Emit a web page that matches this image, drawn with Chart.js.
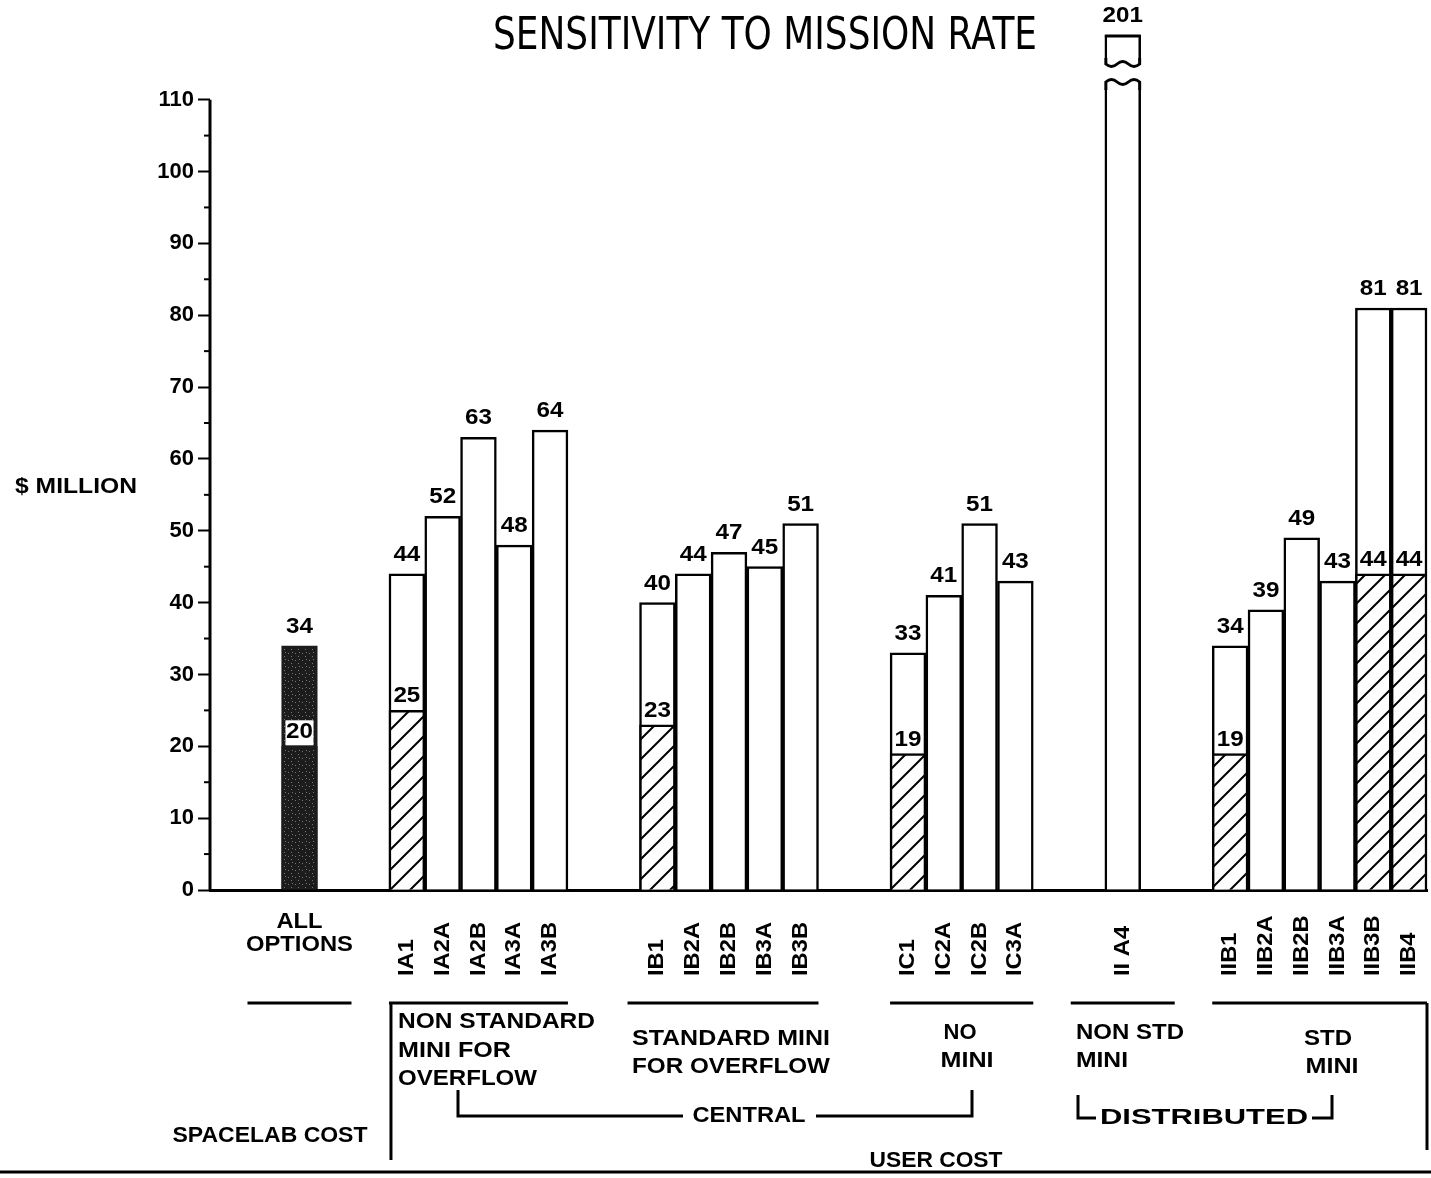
<!DOCTYPE html>
<html>
<head>
<meta charset="utf-8">
<title>Sensitivity to Mission Rate</title>
<script src="https://cdn.jsdelivr.net/npm/chart.js@4.4.0/dist/chart.umd.min.js"></script>
<style>
  html, body { margin: 0; padding: 0; background: #fff; }
  #wrap { width: 1431px; height: 1178px; position: relative; }
</style>
</head>
<body>
<div id="wrap"><canvas id="chart"></canvas></div>
<script>
// options on the x axis, in drawing order
const categories = ['ALL OPTIONS', 'IA1', 'IA2A', 'IA2B', 'IA3A', 'IA3B',
  'IB1', 'IB2A', 'IB2B', 'IB3A', 'IB3B',
  'IC1', 'IC2A', 'IC2B', 'IC3A',
  'II A4',
  'IIB1', 'IIB2A', 'IIB2B', 'IIB3A', 'IIB3B', 'IIB4'];
// which bracket each option sits under (0 = spacelab, 1..5 = user cost groups)
const categoryGroup = [0, 1, 1, 1, 1, 1, 2, 2, 2, 2, 2, 3, 3, 3, 3, 4, 5, 5, 5, 5, 5, 5];
// total cost, $ million
const totalCost = [34, 44, 52, 63, 48, 64, 40, 44, 47, 45, 51, 33, 41, 51, 43, 201, 34, 39, 49, 43, 81, 81];
// hatched (lower) part of the bar, $ million
const lowerCost = [20, 25, null, null, null, null, 23, null, null, null, null,
  19, null, null, null, null, 19, null, null, null, 44, 44];
const yTicks = [0, 10, 20, 30, 40, 50, 60, 70, 80, 90, 100, 110];
const yMinorTicks = [5, 15, 25, 35, 45, 55, 65, 75, 85, 95, 105];

const BOLD = 'bold 22px "Liberation Sans", Arial, sans-serif';

// spread the options out: two empty slots before every group
const slotLabels = [], slotTotal = [], slotLower = [], slotCat = [];
let prevGroup = -1;
categories.forEach((c, i) => {
  if (categoryGroup[i] !== prevGroup) {
    for (let k = 0; k < 2; k++) {
      slotLabels.push(''); slotTotal.push(null); slotLower.push(null); slotCat.push(-1);
    }
    prevGroup = categoryGroup[i];
  }
  slotLabels.push(c);
  slotTotal.push(totalCost[i]);
  slotLower.push(lowerCost[i]);
  slotCat.push(i);
});

function hatchPattern() {
  const c = document.createElement('canvas');
  c.width = 20; c.height = 20;
  const g = c.getContext('2d');
  g.fillStyle = '#fff';
  g.fillRect(0, 0, 20, 20);
  g.strokeStyle = '#000';
  g.lineWidth = 2;
  g.beginPath();
  g.moveTo(-5, 25); g.lineTo(25, -5);
  g.moveTo(-15, 15); g.lineTo(15, -15);
  g.moveTo(5, 35); g.lineTo(35, 5);
  g.stroke();
  return g.createPattern(c, 'repeat');
}

function darkPattern() {
  const c = document.createElement('canvas');
  c.width = 7; c.height = 7;
  const g = c.getContext('2d');
  g.fillStyle = '#1c1c1c';
  g.fillRect(0, 0, 7, 7);
  g.fillStyle = '#777';
  g.fillRect(1, 2, 1, 1);
  g.fillRect(4, 5, 1, 1);
  g.fillRect(5, 1, 1, 1);
  return g.createPattern(c, 'repeat');
}

const hatch = hatchPattern();
const dark = darkPattern();
const isSpacelab = s => slotCat[s] === 0;

function put(ctx, str, x, y, o = {}) {
  ctx.save();
  ctx.font = o.font || BOLD;
  ctx.textAlign = o.align || 'center';
  ctx.textBaseline = o.base || 'middle';
  ctx.fillStyle = '#000';
  let sx = o.stretch || 1;
  if (o.width) sx = o.width / ctx.measureText(str).width;
  ctx.translate(x, y);
  if (o.rotate) ctx.rotate(o.rotate);
  ctx.scale(sx, 1);
  ctx.fillText(str, 0, 0);
  ctx.restore();
}

function line(ctx, pts, w = 3) {
  ctx.save();
  ctx.strokeStyle = '#000';
  ctx.lineWidth = w;
  ctx.lineJoin = 'miter';
  ctx.beginPath();
  ctx.moveTo(pts[0][0], pts[0][1]);
  for (let i = 1; i < pts.length; i++) ctx.lineTo(pts[i][0], pts[i][1]);
  ctx.stroke();
  ctx.restore();
}

function wave(ctx, l, r, base, amp) {
  const n = 3, w = (r - l) / n;
  for (let i = 0; i < n; i++) {
    ctx.quadraticCurveTo(l + (i + 0.5) * w, base + (i % 2 ? -amp : amp), l + (i + 1) * w, base);
  }
}

const annotate = {
  id: 'annotate',
  afterDatasetsDraw(chart) {
    const ctx = chart.ctx, xs = chart.scales.x, ys = chart.scales.y, area = chart.chartArea;
    const half = (xs.getPixelForValue(1) - xs.getPixelForValue(0)) / 2;

    // y axis line and minor ticks (axis stops at 110)
    line(ctx, [[area.left, ys.getPixelForValue(0)], [area.left, ys.getPixelForValue(110)]], 3);
    yMinorTicks.forEach(v => {
      const y = ys.getPixelForValue(v);
      line(ctx, [[area.left - 6, y], [area.left, y]], 2);
    });

    // broken bar for values above the axis
    slotTotal.forEach((v, s) => {
      if (v == null || v <= 110) return;
      const x = xs.getPixelForValue(s), l = x - half + 1, r = x + half - 1;
      const yA = area.top + 29, yB = area.top + 47;
      ctx.save();
      ctx.fillStyle = '#fff';
      ctx.fillRect(l - 4, yA - 5, r - l + 8, yB - yA + 12);
      ctx.restore();
      ctx.save();
      ctx.strokeStyle = '#000';
      ctx.lineWidth = 3;
      ctx.beginPath();
      ctx.moveTo(l, yA - 6); ctx.lineTo(l, yA); wave(ctx, l, r, yA, 5); ctx.lineTo(r, yA - 6);
      ctx.moveTo(l, yB + 8); ctx.lineTo(l, yB); wave(ctx, l, r, yB, -5); ctx.lineTo(r, yB + 8);
      ctx.moveTo(l - 1, area.top + 1); ctx.lineTo(r + 1, area.top + 1);
      ctx.stroke();
      ctx.restore();
    });

    // value labels
    slotTotal.forEach((v, s) => {
      if (v == null) return;
      const x = xs.getPixelForValue(s);
      const top = Math.max(ys.getPixelForValue(v), area.top);
      put(ctx, String(v), x, top - 8, { base: 'bottom', stretch: 1.1 });
    });
    slotLower.forEach((v, s) => {
      if (v == null) return;
      const x = xs.getPixelForValue(s);
      const y = ys.getPixelForValue(v) - 3;
      if (isSpacelab(s)) {
        ctx.save();
        ctx.fillStyle = '#fff';
        ctx.fillRect(x - 14, y - 23, 28, 25);
        ctx.restore();
      }
      put(ctx, String(v), x, y, { base: 'bottom', stretch: 1.1 });
    });
  },
  afterDraw(chart) {
    const ctx = chart.ctx, xs = chart.scales.x;
    const half = (xs.getPixelForValue(1) - xs.getPixelForValue(0)) / 2;

    // category labels
    slotCat.forEach((c, s) => {
      if (c < 0) return;
      const x = xs.getPixelForValue(s);
      if (categoryGroup[c] === 0) {
        const words = categories[c].split(' ');
        words.forEach((w, k) => put(ctx, w, x, 922 + k * 23, { stretch: 1.08 }));
      } else {
        put(ctx, categories[c], x, 976, { align: 'left', rotate: -Math.PI / 2, stretch: 1.08 });
      }
    });

    // group underlines
    const nGroups = Math.max(...categoryGroup) + 1;
    for (let g = 0; g < nGroups; g++) {
      const slots = slotCat.map((c, s) => (c >= 0 && categoryGroup[c] === g ? s : -1)).filter(s => s >= 0);
      let l = xs.getPixelForValue(slots[0]) - half, r = xs.getPixelForValue(slots[slots.length - 1]) + half;
      if (r - l < 100) { const m = (l + r) / 2; l = m - 52; r = m + 52; }
      if (g === 2) l -= 12;
      line(ctx, [[l, 1003], [r, 1003]], 3);
      if (g === 1) line(ctx, [[l + 2, 1003], [l + 2, 1160]], 3);
      if (g === nGroups - 1) line(ctx, [[r, 1003], [r, 1150]], 3);
    }

    // group names
    const texts = [
      ['NON STANDARD', 398, 1022, 'left', 197],
      ['MINI FOR', 398, 1051, 'left', 113],
      ['OVERFLOW', 398, 1079, 'left', 139],
      ['STANDARD MINI', 632, 1039, 'left', 198],
      ['FOR OVERFLOW', 632, 1067, 'left', 198],
      ['NO', 960, 1033, 'center', 33],
      ['MINI', 967, 1061, 'center', 53],
      ['NON STD', 1076, 1033, 'left', 108],
      ['MINI', 1076, 1061, 'left', 52],
      ['STD', 1328, 1039, 'center', 48],
      ['MINI', 1332, 1067, 'center', 53],
      ['CENTRAL', 749, 1116, 'center', 113],
      ['DISTRIBUTED', 1204, 1118, 'center', 208],
      ['SPACELAB COST', 270, 1136, 'center', 195],
      ['USER COST', 936, 1161, 'center', 133]
    ];
    texts.forEach(t => put(ctx, t[0], t[1], t[2], { align: t[3], width: t[4] }));

    // central / distributed brackets
    line(ctx, [[458, 1090], [458, 1116], [683, 1116]], 3);
    line(ctx, [[816, 1116], [972, 1116], [972, 1090]], 3);
    line(ctx, [[1078, 1095], [1078, 1118], [1096, 1118]], 3);
    line(ctx, [[1312, 1118], [1332, 1118], [1332, 1095]], 3);
    // bottom rule
    line(ctx, [[0, 1172], [1431, 1172]], 3);

    // title and axis name
    put(ctx, 'SENSITIVITY TO MISSION RATE', 765, 38,
      { font: '44px "Liberation Sans Narrow", "DejaVu Sans Condensed", "Liberation Sans", sans-serif', width: 544 });
    put(ctx, '$ MILLION', 15, 487, { align: 'left', width: 122 });
  }
};

const ctx = document.getElementById('chart').getContext('2d');

new Chart(ctx, {
  type: 'bar',
  data: {
    labels: slotLabels,
    datasets: [
      {
        label: 'Lower part',
        data: slotLower,
        order: 1,
        backgroundColor: c => (isSpacelab(c.dataIndex) ? dark : hatch),
        borderColor: c => (isSpacelab(c.dataIndex) ? '#1c1c1c' : '#000'),
        borderWidth: 2.5
      },
      {
        label: 'Total',
        data: slotTotal,
        order: 2,
        backgroundColor: c => (isSpacelab(c.dataIndex) ? dark : '#fff'),
        borderColor: c => (isSpacelab(c.dataIndex) ? '#1c1c1c' : '#000'),
        borderWidth: 2.5,
        clip: { left: 5, right: 5, top: 0, bottom: 5 }
      }
    ]
  },
  options: {
    responsive: true,
    maintainAspectRatio: false,
    animation: false,
    layout: { padding: { top: 35, right: 4, left: 0, bottom: 0 } },
    plugins: {
      legend: { display: false },
      tooltip: { enabled: false },
      title: { display: false }
    },
    datasets: {
      bar: { grouped: false, barPercentage: 1, categoryPercentage: 1 }
    },
    scales: {
      x: {
        grid: { display: false },
        ticks: { display: false },
        border: { display: true, color: '#000', width: 3 },
        afterFit: s => { s.height = 288; }
      },
      y: {
        min: 0,
        max: 119, // room above 110 for the broken bar
        afterBuildTicks: s => { s.ticks = yTicks.map(v => ({ value: v })); },
        ticks: {
          color: '#000',
          padding: 4,
          font: { family: '"Liberation Sans", Arial, sans-serif', size: 22, weight: 'bold' },
          callback: v => v
        },
        grid: { drawOnChartArea: false, drawTicks: true, tickLength: 12, tickColor: '#000', tickWidth: 2 },
        border: { display: false },
        afterFit: s => { s.width = 210; }
      }
    }
  },
  plugins: [annotate]
});
</script>
</body>
</html>
